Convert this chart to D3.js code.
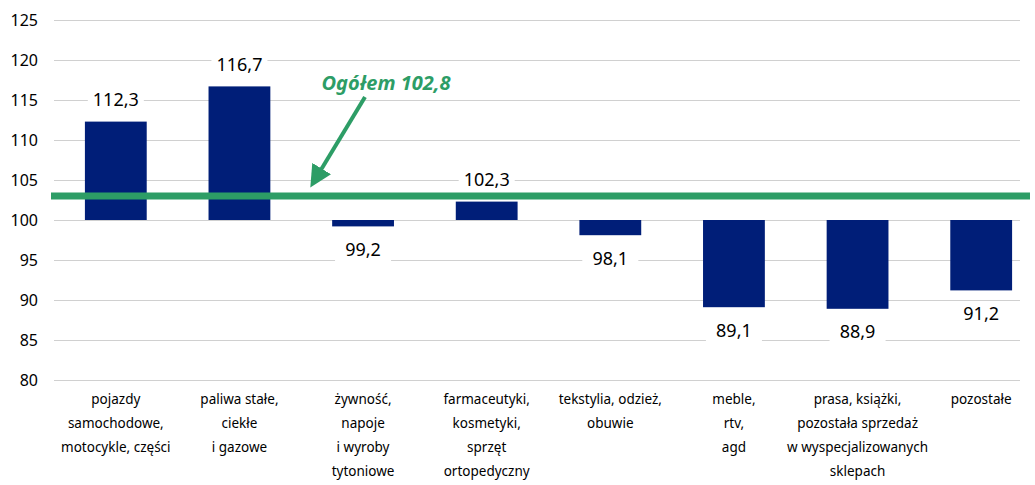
<!DOCTYPE html>
<html>
<head>
<meta charset="utf-8">
<script src="https://cdn.jsdelivr.net/npm/d3@7"></script>
<style>
  body { margin: 0; background: #fff; }
  svg { display: block; font-family: "Noto Sans", sans-serif; }
</style>
</head>
<body>
<div id="chart"></div>
<script>
// data
const categories = [
    ['pojazdy', 'samochodowe,', 'motocykle, części'],
    ['paliwa stałe,', 'ciekłe', 'i gazowe'],
    ['żywność,', 'napoje', 'i wyroby', 'tytoniowe'],
    ['farmaceutyki,', 'kosmetyki,', 'sprzęt', 'ortopedyczny'],
    ['tekstylia, odzież,', 'obuwie'],
    ['meble,', 'rtv,', 'agd'],
    ['prasa, książki,', 'pozostała sprzedaż', 'w wyspecjalizowanych', 'sklepach'],
    ['pozostałe']
];
const values = [112.3, 116.7, 99.2, 102.3, 98.1, 89.1, 88.9, 91.2];
const yTicks = [80, 85, 90, 95, 100, 105, 110, 115, 120, 125];
const overall = 102.8;
const overallLabel = 'Ogółem 102,8';

const margin = { left: 54, top: 20, bottom: 105 };
const width = 1035;
const height = 485;
const gridRight = 1020;
const navy = '#001e78';
const green = '#2d9d66';

const svg = d3.select('#chart')
    .append('svg')
    .attr('width', width)
    .attr('height', height);

// the category bands run a little past the gridlines on the right
const x = d3.scaleBand()
    .domain(d3.range(categories.length))
    .range([margin.left, 1043])
    .paddingInner(0.5)
    .paddingOuter(0.25);

const y = d3.scaleLinear()
    .domain([80, 125])
    .range([height - margin.bottom, margin.top]);

const fmt = v => v.toFixed(1).replace('.', ',');

// gridlines
svg.append('g')
    .selectAll('line')
    .data(yTicks)
    .join('line')
    .attr('x1', margin.left)
    .attr('x2', gridRight)
    .attr('y1', d => y(d) + 0.5)
    .attr('y2', d => y(d) + 0.5)
    .attr('stroke', '#d0d0d0')
    .attr('stroke-width', 1);

// y labels
svg.append('g')
    .selectAll('text')
    .data(yTicks)
    .join('text')
    .attr('x', 38)
    .attr('y', d => y(d))
    .attr('dy', '0.35em')
    .attr('text-anchor', 'end')
    .attr('font-size', 16)
    .attr('fill', '#000')
    .text(d => d);

// bars
svg.append('g')
    .selectAll('rect')
    .data(values)
    .join('rect')
    .attr('x', (d, i) => x(i))
    .attr('width', x.bandwidth())
    .attr('y', d => y(Math.max(d, 100)))
    .attr('height', d => Math.abs(y(d) - y(100)))
    .attr('fill', navy);

// value labels with white box
const labels = svg.append('g')
    .selectAll('g')
    .data(values)
    .join('g')
    .attr('transform', (d, i) => {
        const cy = d >= 100 ? y(d) - 22 : y(d) + 23;
        return `translate(${x(i) + x.bandwidth() / 2},${cy})`;
    });

labels.append('rect')
    .attr('x', -28)
    .attr('y', -12)
    .attr('width', 56)
    .attr('height', 24)
    .attr('fill', '#fff');

labels.append('text')
    .attr('text-anchor', 'middle')
    .attr('dy', '0.35em')
    .attr('font-size', 18)
    .attr('fill', '#000')
    .text(d => fmt(d));

// category labels
const cat = svg.append('g')
    .selectAll('text')
    .data(categories)
    .join('text')
    .attr('x', (d, i) => x(i) + x.bandwidth() / 2)
    .attr('y', 399)
    .attr('text-anchor', 'middle')
    .attr('font-size', 13.5)
    .attr('fill', '#000');

cat.selectAll('tspan')
    .data(d => d)
    .join('tspan')
    .attr('x', function () { return d3.select(this.parentNode).attr('x'); })
    .attr('dy', (d, j) => j === 0 ? '0.35em' : 24)
    .text(d => d);

// overall line
svg.append('line')
    .attr('x1', 51)
    .attr('x2', width - 5)
    .attr('y1', y(overall) - 1.5)
    .attr('y2', y(overall) - 1.5)
    .attr('stroke', green)
    .attr('stroke-width', 7);

// arrow
svg.append('defs')
    .append('marker')
    .attr('id', 'arrow')
    .attr('viewBox', '0 0 10 10')
    .attr('refX', 5)
    .attr('refY', 5)
    .attr('markerWidth', 5.5)
    .attr('markerHeight', 5.5)
    .attr('orient', 'auto')
    .append('path')
    .attr('d', 'M0,0 L10,5 L0,10 Z')
    .attr('fill', green);

svg.append('line')
    .attr('x1', 365)
    .attr('y1', 97)
    .attr('x2', 316)
    .attr('y2', 178)
    .attr('stroke', green)
    .attr('stroke-width', 4)
    .attr('marker-end', 'url(#arrow)');

svg.append('text')
    .attr('x', 386)
    .attr('y', 83)
    .attr('dy', '0.35em')
    .attr('text-anchor', 'middle')
    .attr('font-size', 20)
    .attr('font-weight', 'bold')
    .attr('font-style', 'italic')
    .attr('fill', green)
    .text(overallLabel);
</script>
</body>
</html>
